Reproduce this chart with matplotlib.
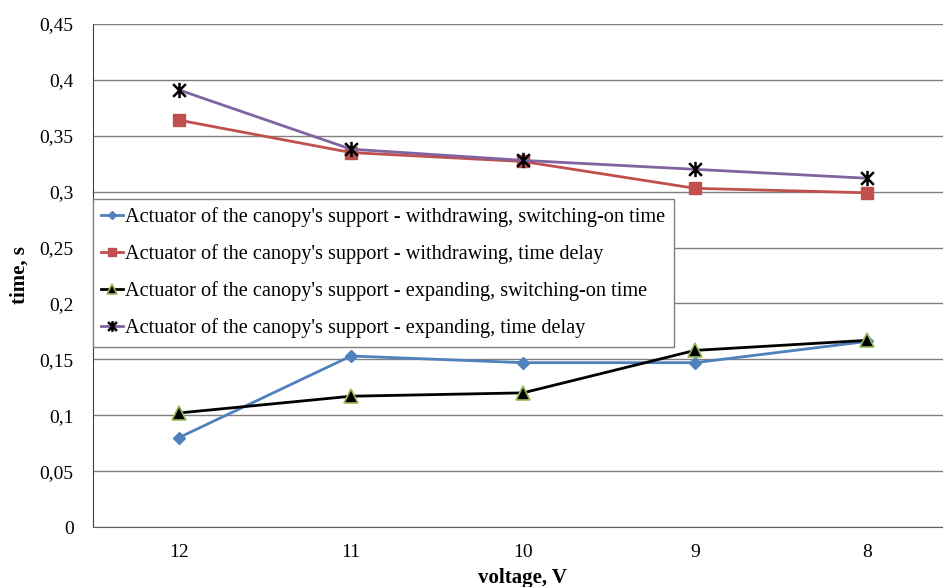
import matplotlib
matplotlib.use("Agg")
import matplotlib.pyplot as plt
from matplotlib.path import Path
from matplotlib.ticker import FuncFormatter

plt.rcParams['font.family'] = ['Liberation Serif', 'DejaVu Serif']

# voltage categories
voltage = ["12", "11", "10", "9", "8"]
# withdrawing
withdraw_on = [0.080, 0.153, 0.147, 0.147, 0.166]
withdraw_delay = [0.364, 0.335, 0.327, 0.303, 0.299]
# expanding
expand_on = [0.102, 0.117, 0.120, 0.158, 0.167]
expand_delay = [0.391, 0.338, 0.328, 0.320, 0.312]

labels = [
    "Actuator of the canopy's support - withdrawing, switching-on time",
    "Actuator of the canopy's support - withdrawing, time delay",
    "Actuator of the canopy's support - expanding, switching-on time",
    "Actuator of the canopy's support - expanding, time delay",
]

# excel-like star marker: X with a vertical bar
star = Path([(-1, -1), (1, 1), (-1, 1), (1, -1), (0, -1.2), (0, 1.2)],
            [Path.MOVETO, Path.LINETO, Path.MOVETO, Path.LINETO, Path.MOVETO, Path.LINETO])

fig = plt.figure(figsize=(9.43, 5.87), dpi=100)
ax = fig.add_axes([93 / 943, 1 - 527 / 587, 860 / 943, 503 / 587])

x = range(len(voltage))
ax.plot(x, withdraw_on, color="#4F81BD", lw=2, marker="D", ms=6,
        mfc="#4F81BD", mec="#4F81BD", label=labels[0])
ax.plot(x, withdraw_delay, color="#C0504D", lw=2, marker="s", ms=8,
        mfc="#C0504D", mec="#C0504D", label=labels[1])
ax.plot(x, expand_on, color="black", lw=2, marker="^", ms=10,
        mfc="black", mec="#9BBB59", mew=1.2, label=labels[2])
ax.plot(x, expand_delay, color="#8064A2", lw=2, marker=star, ms=11,
        mfc="none", mec="black", mew=1.8, label=labels[3])

ax.set_xlim(-0.5, len(voltage) - 0.5)
ax.set_ylim(0, 0.45)
ax.set_yticks([i * 0.05 for i in range(10)])
ax.yaxis.set_major_formatter(FuncFormatter(lambda v, p: ("%g" % round(v, 2)).replace(".", ",")))
ax.set_xticks(list(x))
ax.set_xticklabels(voltage)
ax.tick_params(length=0, labelsize=14)
ax.tick_params(axis="y", pad=14)
ax.tick_params(axis="x", pad=12)

ax.grid(axis="y", color="#808080", lw=1)
ax.set_axisbelow(True)
for s in ["top", "right"]:
    ax.spines[s].set_visible(False)
ax.spines["left"].set_color("#404040")
ax.spines["bottom"].set_color("#606060")

ax.set_ylabel("time, s", fontsize=15, fontweight="bold", va="center")
ax.yaxis.set_label_coords((20 - 93) / 860, 0.5)
ax.set_xlabel("voltage, V", fontsize=15, fontweight="bold", labelpad=5)

leg = ax.legend(loc="upper left", bbox_to_anchor=(93 / 943, 1 - 199 / 587),
                bbox_transform=fig.transFigure, fontsize=14.6, frameon=True,
                fancybox=False, edgecolor="#808080", framealpha=1,
                handlelength=1.1, handletextpad=0.1, borderpad=0.4,
                labelspacing=0.85, borderaxespad=0, markerscale=0.7)
leg.get_frame().set_linewidth(1)

fig.savefig("out.png", dpi=100)
